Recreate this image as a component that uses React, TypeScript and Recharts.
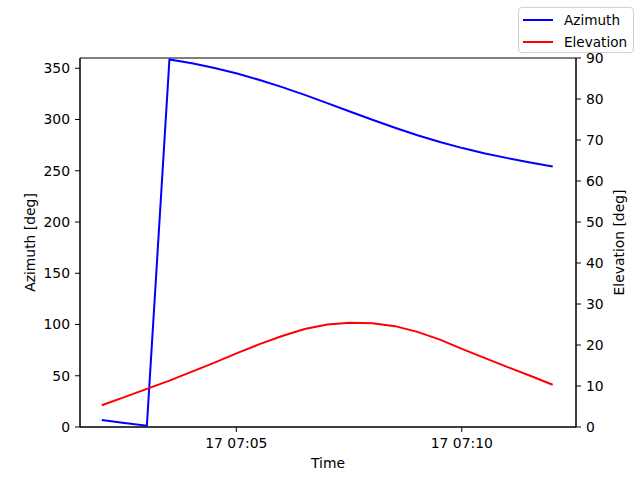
import React from "react";
import {
  LineChart,
  Line,
  XAxis,
  YAxis,
  ReferenceArea,
} from "recharts";

// seconds after 07:00:00 on day 17, one sample every 30 s
const times = [
  121, 151, 181, 211, 241, 271, 301, 331, 361, 391, 421, 451, 481, 511, 541,
  571, 601, 631, 661, 691, 721,
];

const azimuth = [
  6.8, 4.0, 1.3, 358.5, 354.8, 350.2, 344.8, 338.6, 331.6, 324.0, 316.0, 307.8,
  299.7, 291.9, 284.6, 278.0, 272.1, 266.9, 262.3, 258.1, 254.2,
];

const elevation = [
  5.3, 7.3, 9.3, 11.3, 13.5, 15.7, 18.0, 20.2, 22.2, 23.9, 25.0, 25.4, 25.3,
  24.6, 23.2, 21.3, 19.0, 16.8, 14.6, 12.5, 10.3,
];

const xTicks = [300, 600];
const azTicks = [0, 50, 100, 150, 200, 250, 300, 350];
const elTicks = [0, 10, 20, 30, 40, 50, 60, 70, 80, 90];

const series = [
  { key: "azimuth", name: "Azimuth", color: "#0000ff" },
  { key: "elevation", name: "Elevation", color: "#ff0000" },
];

const data = times.map((t, i) => ({
  t,
  azimuth: azimuth[i],
  elevation: elevation[i],
}));

const FONT = "'DejaVu Sans', sans-serif";
const tickStyle = { fill: "#000", fontSize: 13.9, fontFamily: FONT };

const fmtTime = (s: number) => {
  const h = Math.floor(s / 3600) + 7;
  const m = Math.floor((s % 3600) / 60);
  return `17 ${String(h).padStart(2, "0")}:${String(m).padStart(2, "0")}`;
};

export default function App() {
  return (
    <div
      style={{
        position: "fixed",
        left: 0,
        top: 0,
        width: 640,
        height: 480,
        background: "#fff",
        fontFamily: FONT,
      }}
    >
      <LineChart
        width={640}
        height={480}
        data={data}
        margin={{ top: 58, right: 0, bottom: 0, left: 0 }}
      >
        <XAxis
          dataKey="t"
          type="number"
          domain={[92, 752]}
          allowDataOverflow
          ticks={xTicks}
          tickFormatter={fmtTime}
          stroke="#000"
          tick={tickStyle}
          tickSize={5}
          tickMargin={6}
          height={53}
          label={{
            value: "Time",
            position: "insideBottom",
            offset: 12,
            style: { fill: "#000", fontSize: 13.9, fontFamily: FONT },
          }}
        />
        <YAxis
          yAxisId="left"
          domain={[0, 360]}
          ticks={azTicks}
          width={80}
          stroke="#000"
          tick={tickStyle}
          tickSize={5}
          tickMargin={5}
          label={{
            value: "Azimuth [deg]",
            angle: -90,
            position: "insideLeft",
            offset: 30,
            style: {
              textAnchor: "middle",
              fill: "#000",
              fontSize: 13.9,
              fontFamily: FONT,
            },
          }}
        />
        <YAxis
          yAxisId="right"
          orientation="right"
          domain={[0, 90]}
          ticks={elTicks}
          width={64}
          stroke="#000"
          tick={tickStyle}
          tickSize={5}
          tickMargin={5}
          label={{
            value: "Elevation [deg]",
            angle: -90,
            position: "insideRight",
            offset: 21,
            style: {
              textAnchor: "middle",
              fill: "#000",
              fontSize: 13.9,
              fontFamily: FONT,
            },
          }}
        />
        <ReferenceArea
          yAxisId="left"
          x1={92}
          x2={752}
          y1={0}
          y2={360}
          fill="none"
          stroke="#000"
          strokeWidth={1}
        />
        <Line
          yAxisId="left"
          dataKey="azimuth"
          stroke="#0000ff"
          strokeWidth={2}
          dot={false}
          type="linear"
          isAnimationActive={false}
        />
        <Line
          yAxisId="right"
          dataKey="elevation"
          stroke="#ff0000"
          strokeWidth={2}
          dot={false}
          type="linear"
          isAnimationActive={false}
        />
      </LineChart>
      <div
        style={{
          position: "absolute",
          left: 518,
          top: 7,
          width: 114,
          height: 44,
          border: "1px solid #d0d0d0",
          borderRadius: 4,
          background: "rgba(255,255,255,0.8)",
        }}
      >
        {series.map((s, i) => (
          <div
            key={s.key}
            style={{
              position: "absolute",
              left: 4,
              top: 3 + i * 22,
              height: 18,
              display: "flex",
              alignItems: "center",
              fontSize: 13.6,
              color: "#000",
              whiteSpace: "nowrap",
            }}
          >
            <span
              style={{
                display: "inline-block",
                width: 30,
                height: 2,
                background: s.color,
                marginRight: 11,
              }}
            />
            {s.name}
          </div>
        ))}
      </div>
    </div>
  );
}
